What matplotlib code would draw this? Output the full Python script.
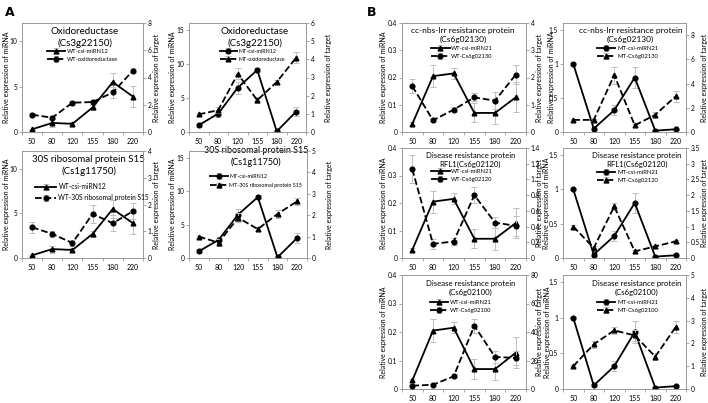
import matplotlib
matplotlib.use("Agg")
import matplotlib.pyplot as plt
import numpy as np

plt.rcParams['font.family'] = ['Lato', 'DejaVu Sans']

days = ["50", "80", "120", "155", "180", "220"]

# miRNA series
wt_mir12 = [0.3, 1.0, 0.9, 2.7, 5.5, 3.9]
wt_mir12_err = [0.05, 0.4, 0.2, 0.3, 1.0, 1.2]
mt_mir12 = [1.0, 2.7, 6.5, 9.1, 0.1, 3.0]
mt_mir12_err = [0.2, 0.5, 0.9, 0.3, 0.1, 0.7]
wt_mir21 = [0.03, 0.205, 0.215, 0.07, 0.07, 0.127]
wt_mir21_err = [0.005, 0.04, 0.02, 0.035, 0.04, 0.055]
mt_mir21 = [1.0, 0.05, 0.32, 0.8, 0.02, 0.04]
mt_mir21_err = [0.01, 0.02, 0.07, 0.15, 0.01, 0.01]

# target series
wt_oxido = [1.27, 1.05, 2.15, 2.2, 2.9, 4.5]
wt_oxido_err = [0.1, 0.1, 0.15, 0.15, 0.4, 0.2]
mt_oxido = [0.97, 1.2, 3.2, 1.75, 2.75, 4.1]
mt_oxido_err = [0.1, 0.15, 0.3, 0.15, 0.1, 0.3]
wt_30s = [1.15, 0.9, 0.56, 1.65, 1.3, 1.75]
wt_30s_err = [0.2, 0.1, 0.1, 0.35, 0.3, 0.3]
mt_30s = [1.0, 0.72, 1.88, 1.35, 2.06, 2.65]
mt_30s_err = [0.05, 0.15, 0.2, 0.1, 0.2, 0.15]
wt_130 = [1.68, 0.43, 0.82, 1.27, 1.15, 2.1]
wt_130_err = [0.25, 0.05, 0.1, 0.15, 0.3, 0.35]
mt_130 = [1.0, 1.0, 4.7, 0.55, 1.42, 2.95]
mt_130_err = [0.1, 0.1, 0.7, 0.1, 0.2, 0.45]
wt_120 = [1.13, 0.18, 0.21, 0.8, 0.45, 0.41]
wt_120_err = [0.18, 0.06, 0.05, 0.1, 0.07, 0.13]
mt_120 = [1.0, 0.32, 1.64, 0.21, 0.37, 0.53]
mt_120_err = [0.05, 0.05, 0.1, 0.05, 0.05, 0.05]
wt_100 = [2.3, 3.0, 8.9, 44.4, 22.5, 21.8]
wt_100_err = [0.5, 0.5, 1.5, 5, 4, 5]
mt_100 = [1.0, 1.96, 2.57, 2.35, 1.42, 2.72]
mt_100_err = [0.05, 0.15, 0.15, 0.25, 0.15, 0.25]

W, H = 708, 403
fig = plt.figure(figsize=(W / 100, H / 100), dpi=100)

def rect(l, t, r, b):
    return [l / W, 1 - b / H, (r - l) / W, (b - t) / H]

def fmt(v):
    return '%g' % v

def panel(box, title, tx, tfs, mir, mir_err, mir_lab, tgt, tgt_err, tgt_lab,
          lylim, lticks, rylim, rticks, wt, leg_x, leg_y, leg_fs=4.2, leg_sp=0.55,
          loff=14, roff=10, ty=0.96):
    ax = fig.add_axes(rect(*box))
    ax2 = ax.twinx()
    wpx = box[2] - box[0]
    x = np.arange(len(days))
    mk_m = '^' if wt else 'o'
    mk_t = 'o' if wt else '^'
    ecol = '#bdbdbd'
    ax.errorbar(x, mir, yerr=mir_err, color='black', lw=1.3, marker=mk_m, ms=3.4,
                ecolor=ecol, elinewidth=0.7, capsize=2, capthick=0.7, label=mir_lab, zorder=3)
    ax2.errorbar(x, tgt, yerr=tgt_err, color='black', lw=1.3, ls='--', marker=mk_t, ms=3.4,
                 ecolor=ecol, elinewidth=0.7, capsize=2, capthick=0.7, label=tgt_lab, zorder=3)
    ax.set_xlim(-0.5, 5.5)
    ax.set_ylim(*lylim)
    ax.set_yticks(lticks)
    ax.set_yticklabels([fmt(v) for v in lticks])
    ax2.set_ylim(*rylim)
    ax2.set_yticks(rticks)
    ax2.set_yticklabels([fmt(v) for v in rticks])
    ax.set_xticks(x)
    ax.set_xticklabels(days)
    ax.set_xticks(np.arange(-0.5, 6, 1), minor=True)
    ax.tick_params(axis='x', which='major', length=0, labelsize=5, pad=4)
    ax.tick_params(axis='x', which='minor', length=2, width=0.5, color='#888888')
    ax.tick_params(axis='y', labelsize=4.8, length=2, width=0.5, color='#888888', pad=1.5)
    ax2.tick_params(axis='y', labelsize=4.8, length=2, width=0.5, color='#888888', pad=1.5)
    for a in (ax, ax2):
        for s in a.spines.values():
            s.set_color('#999999')
            s.set_linewidth(0.6)
    ax.set_ylabel('Relative expression of miRNA', fontsize=5)
    ax2.set_ylabel('Relative expression of target', fontsize=5)
    ax.yaxis.set_label_coords(-loff / wpx, 0.5)
    ax2.yaxis.set_label_coords(1 + roff / wpx, 0.5)
    ax.text(tx, ty, title, transform=ax.transAxes, ha='center', va='top',
            fontsize=tfs, linespacing=1.3, zorder=5)
    h1, l1 = ax.get_legend_handles_labels()
    h2, l2 = ax2.get_legend_handles_labels()
    ax2.legend(h1 + h2, l1 + l2, loc='upper left', bbox_to_anchor=(leg_x, leg_y),
               fontsize=leg_fs, frameon=False, handlelength=3.2, borderpad=0.2,
               labelspacing=leg_sp, handletextpad=0.3)
    return ax

panel((22, 23, 143, 132), 'Oxidoreductase\n(Cs3g22150)', 0.52, 7,
      wt_mir12, wt_mir12_err, 'WT-csi-miRN12', wt_oxido, wt_oxido_err, 'WT-oxidoreductase',
      (0, 12), [0, 5, 10], (0, 8), [0, 2, 4, 6, 8], True, 0.17, 0.8, loff=12, roff=10)
panel((189, 23, 306, 132), 'Oxidoreductase\n(Cs3g22150)', 0.56, 7,
      mt_mir12, mt_mir12_err, 'MT-csi-miRN12', mt_oxido, mt_oxido_err, 'MT-oxidoreductase',
      (0, 16), [0, 5, 10, 15], (0, 6), [0, 1, 2, 3, 4, 5, 6], False, 0.23, 0.8,
      leg_fs=3.9, loff=13, roff=19)
panel((22, 151, 143, 258), '30S ribosomal protein S15\n(Cs1g11750)', 0.55, 7,
      wt_mir12, wt_mir12_err, 'WT-csi-miRN12', wt_30s, wt_30s_err, 'WT-30S ribosomal protein S15',
      (0, 12), [0, 5, 10], (0, 4), [0, 1, 2, 3, 4], True, 0.07, 0.74,
      leg_fs=4.8, leg_sp=0.6, loff=12, roff=10)
panel((189, 151, 307, 258), '30S ribosomal protein S15\n(Cs1g11750)', 0.57, 6.5,
      mt_mir12, mt_mir12_err, 'MT-csi-miRN12', mt_30s, mt_30s_err, 'MT-30S ribosomal protein S15',
      (0, 16), [0, 5, 10, 15], (0, 5), [0, 1, 2, 3, 4, 5], False, 0.15, 0.82,
      leg_fs=3.9, leg_sp=0.8, loff=13, roff=19, ty=1.045)

panel((402, 23, 526, 132), 'cc-nbs-lrr resistance protein\n(Cs6g02130)', 0.49, 6,
      wt_mir21, wt_mir21_err, 'WT-csi-miRN21', wt_130, wt_130_err, 'WT-Cs6g02130',
      (0, 0.4), [0, 0.1, 0.2, 0.3, 0.4], (0, 4), [0, 1, 2, 3, 4], True, 0.2, 0.83,
      loff=15, roff=10)
panel((563, 23, 686, 132), 'cc-nbs-lrr resistance protein\n(Cs6g02130)', 0.55, 6,
      mt_mir21, mt_mir21_err, 'MT-csi-miRN21', mt_130, mt_130_err, 'MT-Cs6g02130',
      (0, 1.6), [0, 0.5, 1, 1.5], (0, 9), [0, 2, 4, 6, 8], False, 0.24, 0.83,
      loff=8, roff=15)
panel((402, 148, 526, 258), 'Disease resistance protein\nRFL1(Cs6g02120)', 0.55, 5.6,
      wt_mir21, wt_mir21_err, 'WT-csi-miRN21', wt_120, wt_120_err, 'WT-Cs6g02120',
      (0, 0.4), [0, 0.1, 0.2, 0.3, 0.4], (0, 1.4), [0, 0.2, 0.4, 0.6, 0.8, 1, 1.2, 1.4], True, 0.2, 0.85,
      loff=15, roff=10)
panel((563, 148, 686, 258), 'Disease resistance protein\nRFL1(Cs6g02120)', 0.6, 5.6,
      mt_mir21, mt_mir21_err, 'MT-csi-miRN21', mt_120, mt_120_err, 'MT-Cs6g02120',
      (0, 1.6), [0, 0.5, 1, 1.5], (0, 3.5), [0, 0.5, 1, 1.5, 2, 2.5, 3, 3.5], False, 0.24, 0.84,
      loff=13, roff=15)
panel((402, 275, 526, 389), 'Disease resistance protein\n(Cs6g02100)', 0.55, 5.6,
      wt_mir21, wt_mir21_err, 'WT-csi-miRN21', wt_100, wt_100_err, 'WT-Cs6g02100',
      (0, 0.4), [0, 0.1, 0.2, 0.3, 0.4], (0, 80), [0, 20, 40, 60, 80], True, 0.19, 0.82,
      loff=15, roff=10)
panel((563, 275, 686, 389), 'Disease resistance protein\n(Cs6g02100)', 0.6, 5.6,
      mt_mir21, mt_mir21_err, 'MT-csi-miRN21', mt_100, mt_100_err, 'MT-Cs6g02100',
      (0, 1.6), [0, 0.5, 1, 1.5], (0, 5), [0, 1, 2, 3, 4, 5], False, 0.24, 0.82,
      loff=12, roff=15)

fig.text(5 / W, 1 - 12 / H, 'A', fontsize=9, fontweight='bold', va='center', family='DejaVu Sans')
fig.text(367 / W, 1 - 12 / H, 'B', fontsize=9, fontweight='bold', va='center', family='DejaVu Sans')

fig.savefig('out.png', dpi=100)
